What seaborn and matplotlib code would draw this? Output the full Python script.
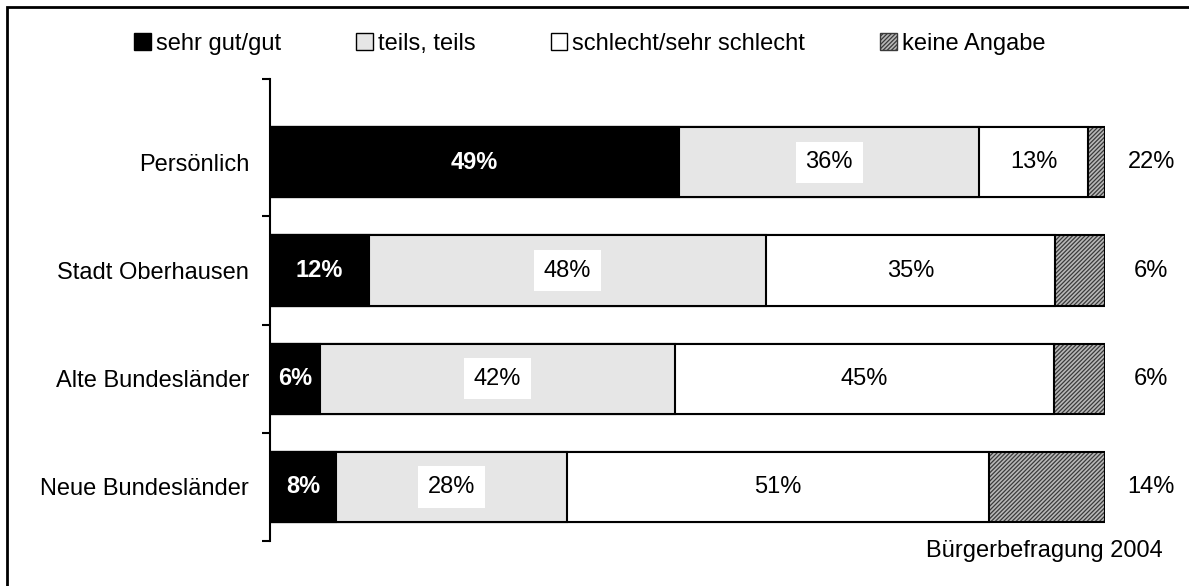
import numpy as np
import pandas as pd
import matplotlib.pyplot as plt
import seaborn as sns
from matplotlib.patches import Patch, Rectangle

# Daten (Bürgerbefragung 2004)
kategorien = ['Persönlich', 'Stadt Oberhausen', 'Alte Bundesländer', 'Neue Bundesländer']
sehr_gut = [49, 12, 6, 8]
teils = [36, 48, 42, 28]
schlecht = [13, 35, 45, 51]
keine_angabe = [2, 6, 6, 14]
keine_labels = ['22%', '6%', '6%', '14%']
legende = ['sehr gut/gut', 'teils, teils', 'schlecht/sehr schlecht', 'keine Angabe']

df = pd.DataFrame({'Kategorie': kategorien, 'sehr_gut': sehr_gut, 'teils': teils,
                   'schlecht': schlecht, 'keine': keine_angabe})
summe = df[['sehr_gut', 'teils', 'schlecht', 'keine']].sum(axis=1)
for col in ['sehr_gut', 'teils', 'schlecht', 'keine']:
    df[col + '_n'] = df[col] / summe * 100
df['c1'] = df['sehr_gut_n']
df['c2'] = df['c1'] + df['teils_n']
df['c3'] = df['c2'] + df['schlecht_n']
df['c4'] = df['c3'] + df['keine_n']

sns.set_theme(style='white')
plt.rcParams['font.family'] = ['Liberation Sans', 'DejaVu Sans']
plt.rcParams['hatch.linewidth'] = 0.9
plt.rcParams['text.color'] = 'black'
plt.rcParams['ytick.labelcolor'] = 'black'
plt.rcParams['ytick.color'] = 'black'

fig = plt.figure(figsize=(11.89, 5.86), dpi=100)
ax = fig.add_axes([0.227, 0.0768, 0.702, 0.7884])

bw = 0.65
hatch_fc = '#b8b8b8'
hatch_ec = '#3a3a3a'
teils_c = '#e6e6e6'
# gestapelte Balken durch ueberlagerte Summen
sns.barplot(data=df, x='c4', y='Kategorie', orient='h', color=hatch_fc, saturation=1,
            width=bw, edgecolor=hatch_ec, linewidth=0, hatch='////////', ax=ax)
sns.barplot(data=df, x='c4', y='Kategorie', orient='h', color='black', fill=False,
            width=bw, linewidth=1.5, ax=ax)
sns.barplot(data=df, x='c3', y='Kategorie', orient='h', color='white', saturation=1,
            width=bw, edgecolor='black', linewidth=1.5, ax=ax)
sns.barplot(data=df, x='c2', y='Kategorie', orient='h', color=teils_c, saturation=1,
            width=bw, edgecolor='black', linewidth=1.5, ax=ax)
sns.barplot(data=df, x='c1', y='Kategorie', orient='h', color='black', saturation=1,
            width=bw, edgecolor='black', linewidth=1.5, ax=ax)

fs = 17
for i, row in df.iterrows():
    ax.text(row['c1'] / 2, i, f"{row['sehr_gut']}%", ha='center', va='center',
            color='white', fontweight='bold', fontsize=fs)
    ax.text((row['c1'] + row['c2']) / 2, i, f"{row['teils']}%", ha='center', va='center',
            color='black', fontsize=fs,
            bbox=dict(facecolor='white', edgecolor='none', pad=7))
    ax.text((row['c2'] + row['c3']) / 2, i, f"{row['schlecht']}%", ha='center', va='center',
            color='black', fontsize=fs)
    ax.text(105.6, i, keine_labels[i], ha='center', va='center', color='black', fontsize=fs)

ax.set_xlim(0, 100)
ax.set_ylim(3.5, -0.77)
ax.set_xlabel('')
ax.set_ylabel('')
ax.xaxis.set_visible(False)
for s in ['top', 'right', 'bottom']:
    ax.spines[s].set_visible(False)
ax.spines['left'].set_color('black')
ax.spines['left'].set_linewidth(1.5)
ax.set_yticks(range(len(kategorien)))
ax.set_yticklabels(kategorien, fontsize=fs, color='black')
ax.set_yticks([-0.77, 0.5, 1.5, 2.5, 3.5], minor=True)
ax.tick_params(axis='y', which='major', length=0, pad=15)
ax.tick_params(axis='y', which='minor', length=6, width=1.5, color='black', left=True)

handles = [
    Patch(facecolor='black', edgecolor='black'),
    Patch(facecolor=teils_c, edgecolor='black'),
    Patch(facecolor='white', edgecolor='black'),
    Patch(facecolor=hatch_fc, edgecolor=hatch_ec, hatch='////////'),
]
fig.legend(handles, legende, loc='center', bbox_to_anchor=(0.496, 0.925), ncol=4,
           frameon=False, fontsize=fs, handlelength=0.7, handleheight=0.7,
           handletextpad=0.2, columnspacing=3.2, labelcolor='black')

fig.text(0.978, 0.06, 'Bürgerbefragung 2004', ha='right', va='center', fontsize=fs,
         color='black')

fig.add_artist(Rectangle((0.0059, -0.1), 1.2, 1.088, transform=fig.transFigure,
                         fill=False, edgecolor='black', linewidth=2))

plt.savefig('out.png', dpi=100)
